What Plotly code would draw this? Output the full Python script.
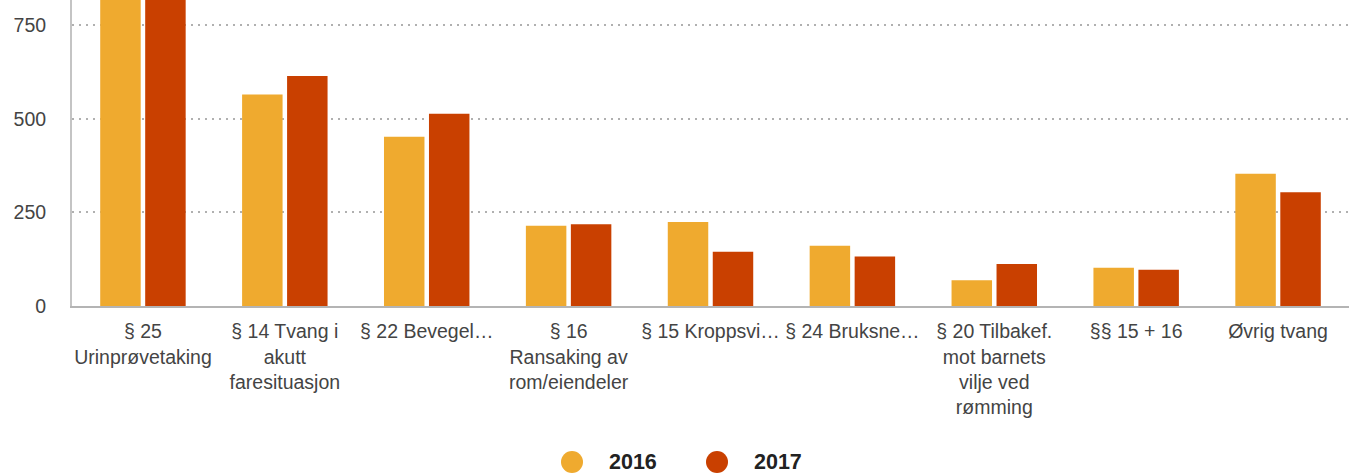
import plotly.graph_objects as go

categories = [
    "§ 25<br>Urinprøvetaking",
    "§ 14 Tvang i<br>akutt<br>faresituasjon",
    "§ 22 Bevegel…",
    "§ 16<br>Ransaking av<br>rom/eiendeler",
    "§ 15 Kroppsvi…",
    "§ 24 Bruksne…",
    "§ 20 Tilbakef.<br>mot barnets<br>vilje ved<br>rømming",
    "§§ 15 + 16",
    "Øvrig tvang",
]
values_2016 = [880, 565, 452, 214, 224, 161, 69, 102, 353]
values_2017 = [905, 614, 513, 218, 145, 132, 112, 97, 304]
series_names = ["2016", "2017"]
colors = ["#EFAA2F", "#C94000"]
y_ticks = [0, 250, 500, 750]

FONT = "Liberation Sans, Arial, sans-serif"
TICK_SIZE = 19.5

fig = go.Figure()
for name, vals, col in zip(series_names, [values_2016, values_2017], colors):
    fig.add_trace(go.Bar(x=categories, y=vals, name=name, marker=dict(color=col, line=dict(width=0)),
                         showlegend=False))

W, H = 1353, 475
ml, mr, mt, mb = 72, 4, 0, 169
pw = W - ml - mr
ph = H - mt - mb

def px_x(x):
    return (x - ml) / pw

def px_y(y):
    return (H - mb - y) / ph

# custom legend with large circle markers
legend_items = [(572, 607, series_names[0], colors[0]), (717, 752, series_names[1], colors[1])]
for mx, tx, name, col in legend_items:
    fig.add_shape(type="circle", xref="paper", yref="paper", xsizemode="pixel", ysizemode="pixel",
                  xanchor=px_x(mx), yanchor=px_y(462), x0=-11, x1=11, y0=-11, y1=11,
                  fillcolor=col, line=dict(width=0))
    fig.add_annotation(xref="paper", yref="paper", x=px_x(tx), y=px_y(462), text="<b>%s</b>" % name,
                       showarrow=False, xanchor="left", yanchor="middle",
                       font=dict(family=FONT, size=21.5, color="#222222"))

fig.update_layout(
    width=W, height=H,
    margin=dict(l=ml, r=mr, t=mt, b=mb, pad=0),
    paper_bgcolor="white", plot_bgcolor="white",
    barmode="group", bargap=0.366, bargroupgap=0.1,
    font=dict(family=FONT, size=TICK_SIZE, color="#444444"),
    xaxis=dict(showline=True, linecolor="#b4b4b4", linewidth=2, showgrid=False,
               tickfont=dict(family=FONT, size=TICK_SIZE, color="#444444"), tickangle=0,
               ticklabelstandoff=7, fixedrange=True),
    yaxis=dict(range=[0, 817], tickvals=y_ticks, showline=True, linecolor="#c4c4c4", linewidth=2,
               showgrid=True, gridcolor="#b0b0b0", griddash="2px,5px", gridwidth=2,
               zeroline=False, tickfont=dict(family=FONT, size=TICK_SIZE, color="#444444"),
               ticklabelstandoff=20, fixedrange=True),
)

fig.write_html("out.html", config={"displayModeBar": False},
               post_script="document.body.style.margin='0';document.body.style.overflow='hidden';")
